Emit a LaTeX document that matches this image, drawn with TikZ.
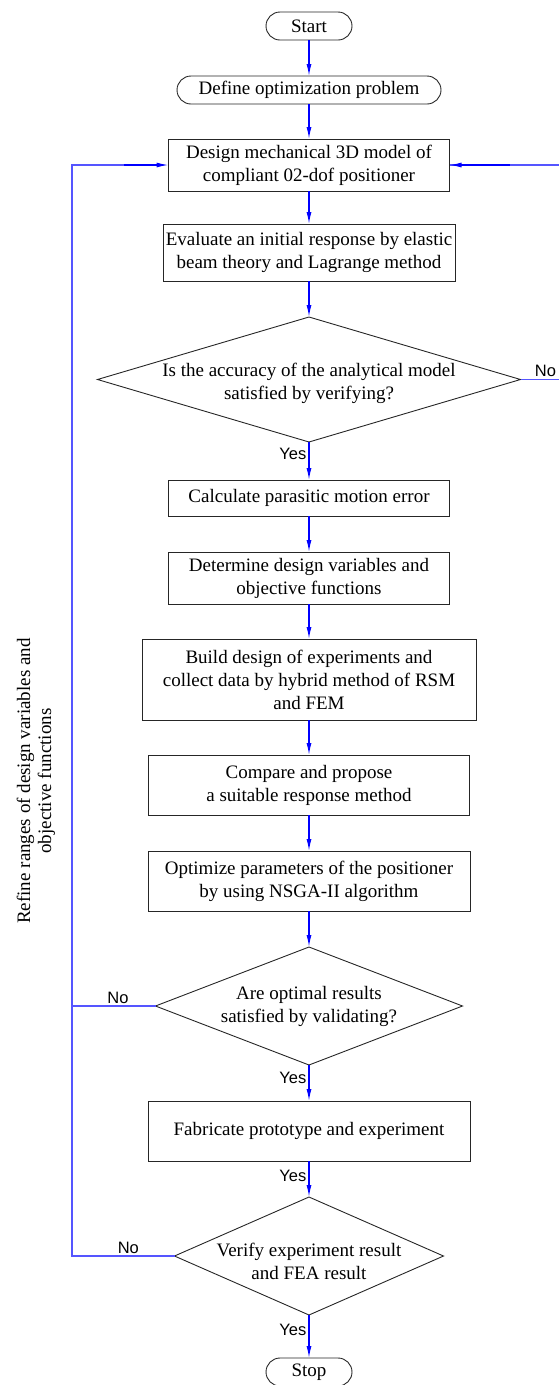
\documentclass[tikz,border=0pt]{standalone}
\usepackage{fontspec}
\setmainfont{Liberation Serif}
\newfontfamily\labelfont{Liberation Sans}
\usepackage{tikz}
\usetikzlibrary{shapes, arrows.meta, positioning, calc, shapes.geometric}
\definecolor{flowblue}{RGB}{0, 0, 255}
\definecolor{loopblue}{RGB}{85, 85, 255}

\begin{document}
\begin{tikzpicture}[x=1pt, y=1pt, node distance=36pt, >={Latex[length=12pt, width=5pt]},
    terminal/.style={rectangle, draw=black!85, line width=0.9pt, outer sep=0pt, rounded corners=14pt, minimum height=28pt, inner xsep=10pt, font=\fontsize{19}{23}\selectfont},
    process/.style={rectangle, draw=black!85, line width=0.9pt, outer sep=0pt, align=center, inner sep=0pt, font=\fontsize{19}{23}\selectfont},
    decision/.style={diamond, draw=black!85, line width=0.9pt, outer sep=0pt, inner sep=0pt},
    question/.style={align=center, inner sep=0pt, font=\fontsize{19}{23}\selectfont},
    flow/.style={->, draw=flowblue, line width=1.3pt},
    loopline/.style={draw=loopblue, line width=1.3pt},
    answer/.style={font=\labelfont\fontsize{16.5}{18}\selectfont, inner sep=2pt}]

    \useasboundingbox (0,0) rectangle (558,-1385);

    % Main chain
    \node[terminal, minimum width=86pt] (start) at (309,-26) {Start};
    \node[terminal, minimum width=264pt, below=36pt of start] (define) {Define optimization problem};
    \node[process, minimum width=281pt, minimum height=52pt, below=35pt of define] (design) {Design mechanical 3D model of\\ compliant 02-dof positioner};
    \node[process, minimum width=292pt, minimum height=57pt, below=33pt of design] (evaluate) {Evaluate an initial response by elastic\\ beam theory and Lagrange method};
    \node[decision, minimum width=423pt, minimum height=125pt, below=36pt of evaluate,
          label={[question, yshift=-4pt]center:Is the accuracy of the analytical model\\ satisfied by verifying?}] (accuracy) {};
    \node[process, minimum width=281pt, minimum height=36pt, below=38pt of accuracy] (parasitic) {Calculate parasitic motion error};
    \node[process, minimum width=281pt, minimum height=52pt, below=36pt of parasitic] (variables) {Determine design variables and\\ objective functions};
    \node[process, minimum width=334pt, minimum height=81pt, below=35pt of variables] (doe) {Build design of experiments and\\ collect data by hybrid method of RSM\\ and FEM};
    \node[process, minimum width=321pt, minimum height=60pt, below=35pt of doe] (compare) {Compare and propose\\ a suitable response method};
    \node[process, minimum width=322pt, minimum height=60pt, below=36pt of compare] (optimize) {Optimize parameters of the positioner\\ by using NSGA-II algorithm};
    \node[decision, minimum width=307pt, minimum height=118pt, below=36pt of optimize,
          label={[question]center:Are optimal results\\ satisfied by validating?}] (optimal) {};
    \node[process, minimum width=322pt, minimum height=60pt, below=36pt of optimal] (fabricate) {Fabricate prototype and experiment};
    \node[decision, minimum width=269pt, minimum height=118pt, below=36pt of fabricate,
          label={[question, yshift=-5pt]center:Verify experiment result\\ and FEA result}] (verify) {};
    \node[terminal, minimum width=86pt, below=43pt of verify] (stop) {Stop};

    % Side note
    \node[rotate=90, align=center, font=\fontsize{19}{21}\selectfont] (refine) at (36,-781) {Refine ranges of design variables and\\ objective functions};

    % Loop ends
    \coordinate (leftx) at (72,0);
    \coordinate (rightx) at (566,0);

    % Flow
    \draw[flow] (start) -- (define);
    \draw[flow] (define) -- (design);
    \draw[flow] (design) -- (evaluate);
    \draw[flow] (evaluate) -- (accuracy);
    \draw[flow] (accuracy) -- node[answer, left, pos=0.3] {Yes} (parasitic);
    \draw[flow] (parasitic) -- (variables);
    \draw[flow] (variables) -- (doe);
    \draw[flow] (doe) -- (compare);
    \draw[flow] (compare) -- (optimize);
    \draw[flow] (optimize) -- (optimal);
    \draw[flow] (optimal) -- node[answer, left, pos=0.35] {Yes} (fabricate);
    \draw[flow] (fabricate) -- node[answer, left, pos=0.4] {Yes} (verify);
    \draw[flow] (verify) -- node[answer, left, pos=0.35] {Yes} (stop);

    % Feedback loops
    \draw[loopline] (accuracy.east) -- node[answer, above, pos=0.55, text=black] {No} (accuracy.east -| rightx) |- (design.east);
    \draw[->, draw=flowblue, line width=1.3pt] ($(design.east)+(60,0)$) -- (design.east);
    \draw[loopline] (verify.west) -- node[answer, above, pos=0.45] {No} (verify.west -| leftx) -- (design.west -| leftx) -- ($(design.west)+(-40,0)$);
    \draw[flow] ($(design.west)+(-45,0)$) -- (design.west);
    \draw[loopline] (optimal.west) -- node[answer, above, pos=0.45] {No} (optimal.west -| leftx);
\end{tikzpicture}
\end{document}
